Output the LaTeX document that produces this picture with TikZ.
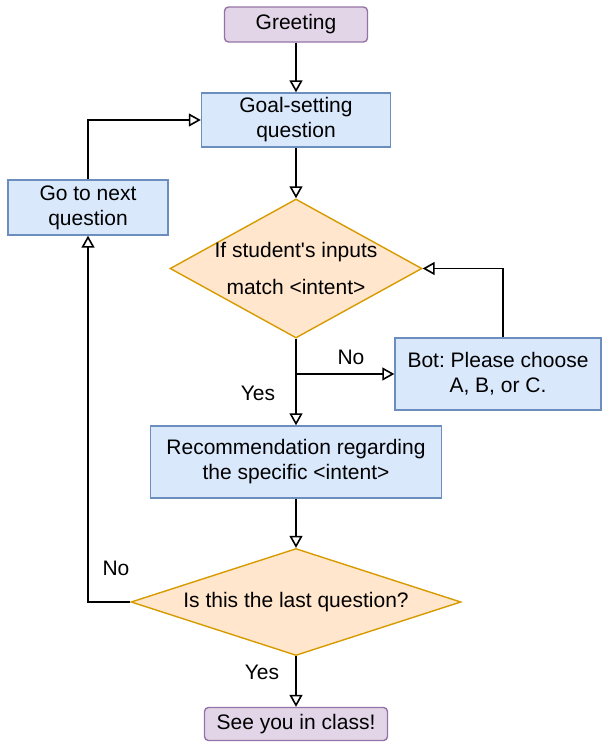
\documentclass[tikz,border=0pt]{standalone}
\usepackage{fontspec}
\setmainfont{Liberation Sans}
\frenchspacing
\usetikzlibrary{shapes.geometric,arrows.meta}
\definecolor{purpfill}{HTML}{E1D5E7}
\definecolor{purpline}{HTML}{9673A6}
\definecolor{bluefill}{HTML}{DAE8FC}
\definecolor{blueline}{HTML}{6C8EBF}
\definecolor{orfill}{HTML}{FFE6CC}
\definecolor{orline}{HTML}{D79B00}
\begin{document}
\begin{tikzpicture}[x=1pt,y=-1pt,
  txt/.style={font=\fontsize{21}{25}\selectfont,align=center},
  endbox/.style={txt,draw=purpline,fill=purpfill,line width=1.4pt,rounded corners=4pt,inner sep=0pt},
  stepbox/.style={txt,draw=blueline,fill=bluefill,line width=1.4pt,inner sep=0pt},
  ask/.style={diamond,draw=orline,fill=orfill,line width=1.4pt,inner sep=0pt},
  flow/.style={-{Triangle[open,length=12pt,width=13pt]},line width=1.6pt}]

\useasboundingbox (0,0) rectangle (602,742);

%% boxes
\node [endbox,minimum width=143pt,minimum height=35pt] (greet) at (296,24.5) {Greeting};
\node [stepbox,minimum width=189pt,minimum height=54pt] (goal) at (296,120) {Goal-setting\\question};
\node [stepbox,minimum width=160pt,minimum height=55pt] (next) at (88,207.5) {Go to next\\question};
\node [ask,minimum width=252pt,minimum height=139pt,
       label={[txt]center:{If student\textquotesingle s inputs\\[12pt]match <intent>}}] (match) at (296,268.5) {};
\node [stepbox,minimum width=206pt,minimum height=72pt] (bot) at (498,374) {Bot: Please choose\\A, B, or C.};
\node [stepbox,minimum width=291pt,minimum height=72pt] (reco) at (296,462) {Recommendation regarding\\the specific <intent>};
\node [ask,minimum width=330pt,minimum height=107pt,
       label={[txt]center:Is this the last question?}] (last) at (296,602) {};
\node [endbox,minimum width=183pt,minimum height=33pt] (bye) at (296,724) {See you in class!};

%% labels
\node [txt] (noA) at (351,357) {No};
\node [txt] (yesA) at (258,393) {Yes};
\node [txt] (noB) at (116,568) {No};
\node [txt] (yesB) at (262,672) {Yes};

%% arrows
\coordinate (split) at (match.south |- bot.west);
\draw [flow] (greet) -- (goal);
\draw [flow] (goal) -- (match);
\draw [flow] (match.south) -- (reco.north);
\draw [flow] (split) -- (bot.west);  %%No
\draw [flow] ([xshift=5pt]bot.north) |- (match.east);
\draw [flow] (reco) -- (last);
\draw [flow] (last.west) -| (next.south);  %%No
\draw [flow] (next.north) |- (goal.west);
\draw [flow] (last.south) -- (bye.north);  %%Yes

\end{tikzpicture}
\end{document}
